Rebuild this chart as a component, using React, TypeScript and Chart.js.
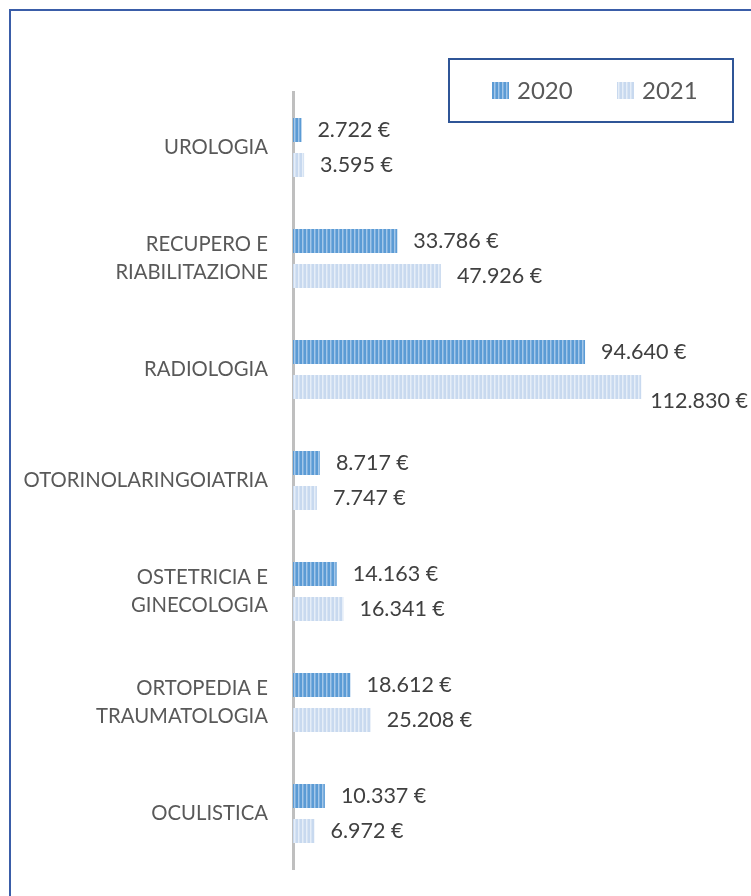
import React, { useEffect, useRef } from "react";
import { Chart, registerables } from "chart.js";

Chart.register(...registerables);

const categories: (string | string[])[] = [
  "UROLOGIA",
  ["RECUPERO E", "RIABILITAZIONE"],
  "RADIOLOGIA",
  "OTORINOLARINGOIATRIA",
  ["OSTETRICIA E", "GINECOLOGIA"],
  ["ORTOPEDIA E", "TRAUMATOLOGIA"],
  "OCULISTICA",
];
const seriesNames = ["2020", "2021"];
const values2020 = [2722, 33786, 94640, 8717, 14163, 18612, 10337];
const values2021 = [3595, 47926, 112830, 7747, 16341, 25208, 6972];

const FONT = "Lato, 'Open Sans', sans-serif";

function makePattern(cols: string[]): CanvasPattern | string {
  const c = document.createElement("canvas");
  c.width = cols.length;
  c.height = 4;
  const g = c.getContext("2d");
  if (!g) return cols[0];
  cols.forEach((col, i) => {
    g.fillStyle = col;
    g.fillRect(i, 0, 1, 4);
  });
  const p = g.createPattern(c, "repeat");
  return p || cols[0];
}

function fmt(v: number): string {
  return v.toString().replace(/\B(?=(\d{3})+(?!\d))/g, ".") + " €";
}

export default function App() {
  const ref = useRef<HTMLCanvasElement | null>(null);

  useEffect(() => {
    document.documentElement.style.overflow = "hidden";
    if (!ref.current) return;
    const p2020 = makePattern(["#5B9BD5", "#5B9BD5", "#A4C7E9", "#7DAFDD"]);
    const p2021 = makePattern(["#C8D9EF", "#C8D9EF", "#E6EEF8", "#D6E3F3"]);

    const valueLabels = {
      id: "valueLabels",
      afterDatasetsDraw(chart: any) {
        const ctx = chart.ctx;
        ctx.save();
        ctx.font = `21.5px ${FONT}`;
        ctx.fillStyle = "#404040";
        ctx.textBaseline = "middle";
        ctx.textAlign = "left";
        chart.data.datasets.forEach((ds: any, di: number) => {
          const meta = chart.getDatasetMeta(di);
          meta.data.forEach((bar: any, i: number) => {
            const txt = fmt(ds.data[i]);
            const w = ctx.measureText(txt).width;
            let x = bar.x + 16;
            let y = bar.y;
            if (x + w > chart.width - 2) {
              x = chart.width - w - 3;
              y = bar.y + 14;
            }
            ctx.fillText(txt, x, y);
          });
        });
        ctx.restore();
      },
    };

    const legendBox = {
      id: "legendBox",
      afterDraw(chart: any) {
        const ctx = chart.ctx;
        ctx.save();
        ctx.strokeStyle = "#2F5597";
        ctx.lineWidth = 2;
        ctx.strokeRect(441, 51, 284, 63);
        const items = [
          { sx: 484, tx: 509 },
          { sx: 609, tx: 634 },
        ];
        ctx.font = `24px ${FONT}`;
        ctx.textBaseline = "middle";
        ctx.textAlign = "left";
        chart.data.datasets.forEach((ds: any, i: number) => {
          const it = items[i];
          ctx.fillStyle = ds.backgroundColor;
          ctx.fillRect(it.sx, 74, 17, 17);
          ctx.fillStyle = "#595959";
          ctx.fillText(ds.label, it.tx, 83);
        });
        ctx.restore();
      },
    };

    const chart = new Chart(ref.current, {
      type: "bar",
      data: {
        labels: categories,
        datasets: [
          {
            label: seriesNames[0],
            data: values2020,
            backgroundColor: p2020 as any,
            categoryPercentage: 0.63,
            barPercentage: 0.6864,
          },
          {
            label: seriesNames[1],
            data: values2021,
            backgroundColor: p2021 as any,
            categoryPercentage: 0.63,
            barPercentage: 0.6864,
          },
        ],
      },
      options: {
        indexAxis: "y",
        animation: false,
        responsive: false,
        maintainAspectRatio: false,
        layout: { padding: { left: 0, right: 26, top: 84, bottom: 27 } },
        plugins: {
          legend: { display: false },
          tooltip: { enabled: false },
        },
        scales: {
          x: {
            display: false,
            min: 0,
            max: 140000,
          },
          y: {
            grid: { display: false, drawTicks: true, tickLength: 25 },
            border: { display: true, color: "#BFBFBF", width: 3 },
            ticks: {
              color: "#595959",
              padding: 0,
              font: { family: FONT, size: 20.3, lineHeight: 1.38 },
            },
            afterFit(scale: any) {
              scale.width = 285;
            },
          },
        },
      },
      plugins: [valueLabels, legendBox],
    });
    return () => chart.destroy();
  }, []);

  return (
    <div
      style={{
        position: "fixed",
        left: 0,
        top: 0,
        width: 751,
        height: 896,
        overflow: "hidden",
        background: "#ffffff",
      }}
    >
      <div
        style={{
          position: "absolute",
          left: 9,
          top: 9,
          width: 900,
          height: 1000,
          borderLeft: "2px solid #3A5DA8",
          borderTop: "2px solid #3A5DA8",
          boxSizing: "border-box",
        }}
      />
      <canvas
        ref={ref}
        width={743}
        height={888}
        style={{ position: "absolute", left: 8, top: 8, width: 743, height: 888 }}
      />
    </div>
  );
}
